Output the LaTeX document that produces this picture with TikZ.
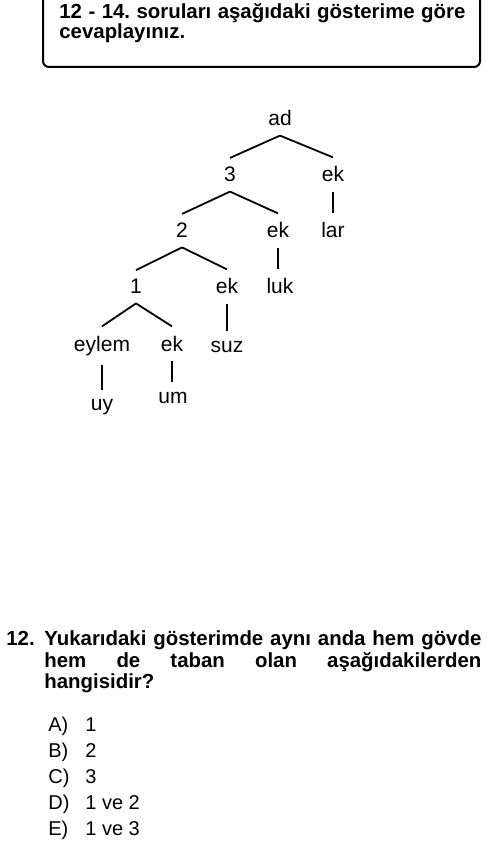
\documentclass[tikz,border=0pt]{standalone}
\usepackage{fontspec}
\setmainfont{Liberation Sans}
\frenchspacing
\tikzset{
    dugum/.style={anchor=base, inner sep=4.5pt, font=\fontsize{10.5}{12}\selectfont},
    dal/.style={line width=0.9pt},
    satir/.style={anchor=base west, inner sep=0pt, font=\bfseries\fontsize{10.2}{12}\selectfont},
    secenek/.style={anchor=base west, inner sep=0pt, font=\fontsize{10}{12}\selectfont},
}
\begin{document}
\begin{tikzpicture}[x=0.5pt, y=-0.5pt]
        \clip (0,0) rectangle (500,849);
        % Kutu
        \draw[line width=1pt, rounded corners=3pt] (43,-20) rectangle (480,67);
        \node[satir] (bas1) at (59,18.5) {\makebox[203pt][s]{12 - 14. soruları aşağıdaki gösterime göre}};
        \node[satir] (bas2) at (59,38.5) {cevaplayınız.};

        % Agac
        \node[dugum] (ad) at (280,126) {ad};
        \node[dugum] (n3) at (230,182) {3};
        \node[dugum] (ek3) at (333,182) {ek};
        \node[dugum] (lar) at (333,238) {lar};
        \node[dugum] (n2) at (182,238) {2};
        \node[dugum] (ek2) at (278,238) {ek};
        \node[dugum] (luk) at (280,294) {luk};
        \node[dugum] (n1) at (136,294) {1};
        \node[dugum] (ek1) at (227,294) {ek};
        \node[dugum] (suz) at (227,352) {suz};
        \node[dugum] (eylem) at (102,351) {eylem};
        \node[dugum] (ek0) at (172,351) {ek};
        \node[dugum] (uy) at (102,410) {uy};
        \node[dugum] (um) at (173,403) {um};
        \foreach \a/\b in {ad/n3, ad/ek3, n3/n2, n3/ek2, n2/n1, n2/ek1, n1/eylem, n1/ek0}
            \draw[dal] (\a.south) -- (\b.north);
        \foreach \a/\b in {ek3/lar, ek2/luk, ek1/suz, eylem/uy, ek0/um}
            \draw[dal] (\a.south) -- (\a.south |- \b.north);

        % Soru
        \node[satir] (no) at (6,645) {12.};
        \node[satir] (q1) at (44,645) {\makebox[218.5pt][s]{Yukarıdaki gösterimde aynı anda hem gövde}};
        \node[satir] (q2) at (44,667) {\makebox[218.5pt][s]{hem de taban olan aşağıdakilerden}};
        \node[satir] (q3) at (44,688) {hangisidir?};
        \foreach \y/\h/\val in {731/A/1, 757/B/2, 783/C/3, 809/D/1 ve 2, 835/E/1 ve 3} {
            \node[secenek] (harf\h) at (48,\y) {\h)};
            \node[secenek] (cevap\h) at (85,\y) {\val};
        }
\end{tikzpicture}
\end{document}
